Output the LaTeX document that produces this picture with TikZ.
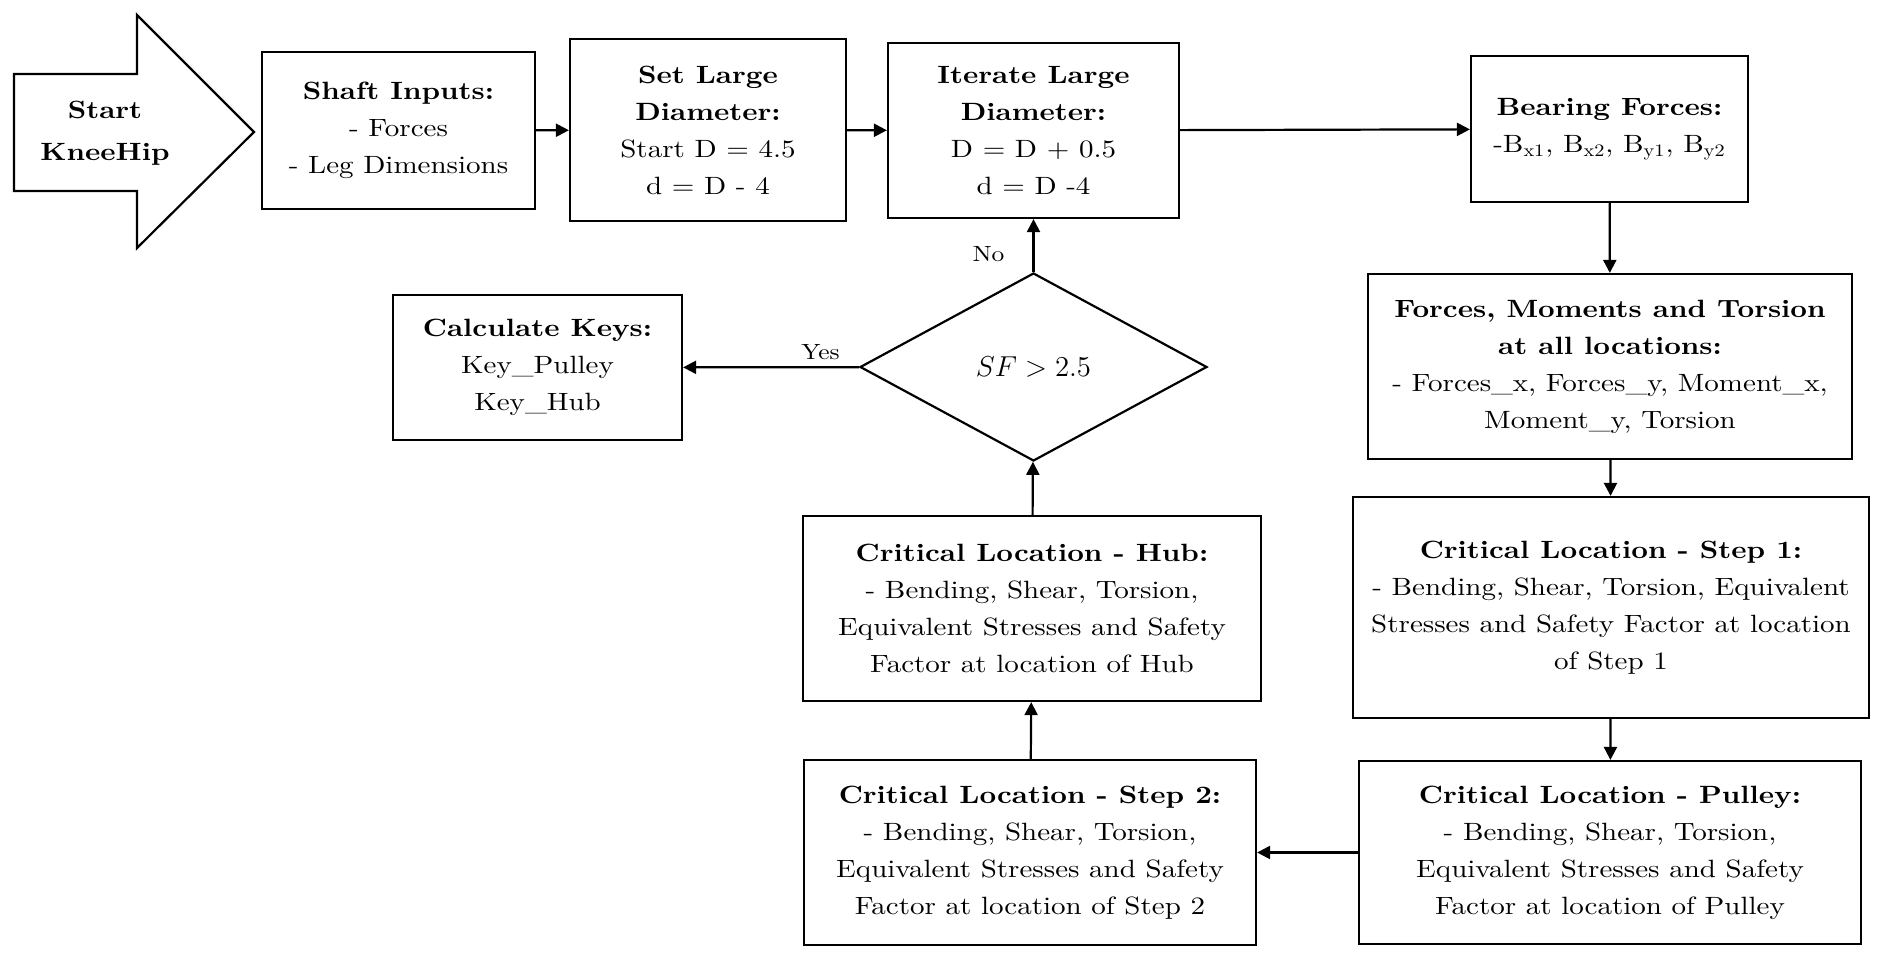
\documentclass[tikz,border=0pt]{standalone}
\usepackage{fontspec}
\setmainfont{lmroman10-regular.otf}[
  BoldFont=lmroman10-bold.otf,
  ItalicFont=lmroman10-italic.otf,
  FakeStretch=1.16]
\usetikzlibrary{shapes.geometric,arrows.meta}
\begin{document}
\begin{tikzpicture}[x=0.5pt,y=-0.5pt,
  box/.style={draw, line width=1.1pt, rectangle, align=center, inner sep=0pt,
    font=\fontsize{12.5}{18.5}\selectfont},
  dia/.style={draw, line width=1.1pt, diamond, aspect=1.85, inner sep=0pt,
    font=\fontsize{14}{18.5}\selectfont},
  arr/.style={line width=1.1pt, -{Triangle[length=6.5pt,width=6.5pt]}},
  lbl/.style={font=\fontsize{11}{13}\selectfont, inner sep=1pt}]
\useasboundingbox (0,0) rectangle (1888,958);

% start arrow
\draw[line width=1.1pt] (14,74) -- (137,74) -- (137,15) -- (254,132) -- (137,248) -- (137,191) -- (14,191) -- cycle;
\node[align=center, font=\fontsize{12.5}{21}\selectfont\bfseries] (start) at (105,133) {Start\\KneeHip};

\node[box, minimum width=136.5pt, minimum height=78.5pt] (shaft) at (398.5,130.5)
  {\textbf{Shaft Inputs:}\\- Forces\\- Leg Dimensions};
\node[box, minimum width=138pt, minimum height=91pt] (setD) at (708,130)
  {\textbf{Set Large}\\\textbf{Diameter:}\\Start D = 4.5\\d = D - 4};
\node[box, minimum width=145.5pt, minimum height=87.5pt] (iter) at (1033.5,130.5)
  {\textbf{Iterate Large}\\\textbf{Diameter:}\\D = D + 0.5\\d = D -4};
\node[box, minimum width=138.5pt, minimum height=73pt] (bear) at (1609.5,129)
  {\textbf{Bearing Forces:}\\-B\textsubscript{x1}, B\textsubscript{x2}, B\textsubscript{y1}, B\textsubscript{y2}};
\node[box, minimum width=242pt, minimum height=92.5pt] (forces) at (1610,366.5)
  {\textbf{Forces, Moments and Torsion}\\\textbf{at all locations:}\\- Forces\_x, Forces\_y, Moment\_x,\\Moment\_y, Torsion};
\node[box, minimum width=258pt, minimum height=110.5pt] (step1) at (1611,607.5)
  {\textbf{Critical Location - Step 1:}\\- Bending, Shear, Torsion, Equivalent\\Stresses and Safety Factor at location\\of Step 1};
\node[box, minimum width=251pt, minimum height=91.5pt] (pulley) at (1610,852.5)
  {\textbf{Critical Location - Pulley:}\\- Bending, Shear, Torsion,\\Equivalent Stresses and Safety\\Factor at location of Pulley};
\node[box, minimum width=226pt, minimum height=92.5pt] (step2) at (1030,852.5)
  {\textbf{Critical Location - Step 2:}\\- Bending, Shear, Torsion,\\Equivalent Stresses and Safety\\Factor at location of Step 2};
\node[box, minimum width=229pt, minimum height=92.5pt] (hub) at (1032,608.5)
  {\textbf{Critical Location - Hub:}\\- Bending, Shear, Torsion,\\Equivalent Stresses and Safety\\Factor at location of Hub};
\node[box, minimum width=144.5pt, minimum height=72.5pt] (keys) at (537.5,367.5)
  {\textbf{Calculate Keys:}\\Key\_Pulley\\Key\_Hub};
\node[dia, minimum width=173.5pt, minimum height=94pt] (dec) at (1033.5,367) {$SF > 2.5$};

\draw[arr] (shaft) -- (setD);
\draw[arr] (setD) -- (iter);
\draw[arr] (iter) -- (bear);
\draw[arr] (bear) -- (forces);
\draw[arr] (forces) -- (step1);
\draw[arr] (step1) -- (pulley);
\draw[arr] (pulley) -- (step2);
\draw[arr] (step2) -- (hub);
\draw[arr] (hub) -- (dec);
\draw[arr] (dec) -- node[lbl, pos=0.33, left=13pt] {No} (iter);
\draw[arr] (dec) -- node[lbl, pos=0.22, above=2pt] {Yes} (keys);
\end{tikzpicture}
\end{document}
